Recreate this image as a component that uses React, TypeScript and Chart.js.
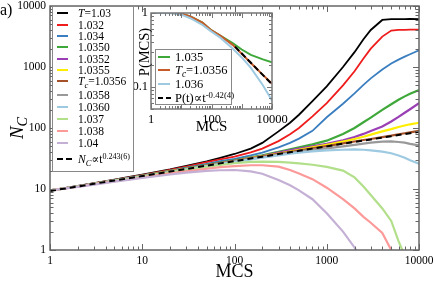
import React, { useEffect, useRef } from 'react';
import { Chart, registerables } from 'chart.js';
Chart.register(...registerables);

const FONT = "'Liberation Serif', 'DejaVu Serif', serif";

// ---------- main panel data ----------
const mcs = [1, 2, 3, 5, 7, 10, 20, 30, 50, 70, 100, 150, 200, 300, 400, 500, 700, 1000, 1500, 2000, 2500, 3000, 4000, 5000, 6000, 7000, 8000, 10000];
const n1030 = [9.5, 11.2, 12.5, 14.3, 15.6, 17.2, 21, 24, 28.5, 32.5, 37.5, 46, 57, 88, 122, 165, 275, 480, 1000, 1750, 2850, 4050, 5900, 6100, 6100, 6100, 6150, 6100];
const n1032 = [9.5, 11.1, 12.4, 14.1, 15.4, 16.9, 20.5, 23.2, 27.5, 30.5, 34, 40, 46, 61, 79, 100, 155, 255, 500, 850, 1380, 2000, 3150, 3950, 4050, 4050, 4100, 4100];
const n1034 = [9.5, 11.1, 12.3, 14, 15.2, 16.7, 20, 22.4, 25.8, 28.5, 31.2, 35.5, 39.5, 48, 57, 67, 90, 150, 250, 370, 510, 650, 910, 1140, 1320, 1480, 1620, 1880];
const n10350 = [9.5, 11, 12.2, 13.9, 15, 16.5, 19.6, 21.8, 24.8, 27, 29.5, 33, 35.5, 40.5, 44.5, 48, 54, 62, 80, 100, 124, 148, 198, 245, 290, 330, 365, 420];
const n10352 = [9.5, 11, 12.2, 13.8, 14.9, 16.4, 19.4, 21.5, 24.5, 26.6, 29, 32.3, 34.8, 39.5, 43, 46, 50, 55, 63, 71, 80, 89, 106, 128, 152, 178, 203, 255];
const n10355 = [9.5, 11, 12.2, 13.8, 14.9, 16.4, 19.4, 21.4, 24.3, 26.4, 28.8, 32, 34.2, 38.2, 41.2, 43.8, 48, 53, 60, 66, 72, 78, 88, 96, 104, 110, 115, 122];
const n10356 = [9.5, 11, 12.2, 13.8, 14.9, 16.4, 19.3, 21.3, 24.2, 26.3, 28.6, 31.8, 34, 37.8, 40.3, 42.5, 46.5, 50.5, 56, 60, 63.5, 66, 71, 75, 79, 82, 85, 90];
const n10358 = [9.5, 11, 12.2, 13.8, 14.9, 16.3, 19.2, 21.2, 24, 26, 28.3, 31.2, 33.2, 36.8, 39, 41, 44, 46.5, 50, 53, 55.5, 57.5, 60, 60.5, 59, 57.5, 55, 52];
const n10360 = [9.5, 11, 12.1, 13.7, 14.8, 16.2, 19, 21, 23.7, 25.6, 27.8, 30.6, 32.5, 35.6, 37.8, 39.5, 41.5, 43, 44, 44.5, 44, 43, 41, 38.5, 35.5, 32.5, 29.5, 26];
const n1037 = [9.5, 11, 12.1, 13.6, 14.6, 16, 18.8, 20.5, 23, 24.8, 26.5, 27.8, 28.2, 27.8, 27, 26.3, 25, 23, 20, 15.5, 11, 8, 4.8, 3, 1.4, 0.8, 0.5, 0.3];
const n1038 = [9.5, 10.9, 12, 13.4, 14.3, 15.5, 18, 19.5, 21.5, 22.8, 23.8, 24.5, 24.5, 23.2, 20.5, 18, 14.5, 10.5, 6.8, 4.8, 3.5, 2.8, 1.9, 1, 0.5, 0.3, 0.2, 0.1];
const n1040 = [9.5, 10.8, 11.8, 13.2, 14.1, 15.2, 17.3, 18.5, 19.8, 20.3, 20.5, 19.5, 17.8, 14, 11.5, 9.5, 6.8, 4, 2, 1.1, 0.6, 0.4, 0.3, 0.2, 0.1, 0.1, 0.1, 0.1];
const nFit = [9.3, 11, 12.2, 13.8, 14.9, 16.3, 19.3, 21.3, 24.2, 26.3, 28.6, 31.7, 33.8, 37.4, 40, 42.2, 45.9, 50, 55.3, 59, 62.3, 65, 69.6, 73.4, 76.7, 79.5, 82, 86.5];

const seriesLabels = ['T=1.03', '1.032', '1.034', '1.0350', '1.0352', '1.0355', 'Tc=1.0356', '1.0358', '1.0360', '1.037', '1.038', '1.04'];
const seriesValues = [n1030, n1032, n1034, n10350, n10352, n10355, n10356, n10358, n10360, n1037, n1038, n1040];
const seriesColors = ['#000000', '#ee1c1c', '#3a7ec0', '#3fa83a', '#9b3fb5', '#ffee00', '#a5522b', '#999999', '#9ecae1', '#b2df8a', '#fb9a99', '#c5b0d5'];
const fitLabel = 'N_C∝t^0.243(6)';

const mainTicks = [1, 10, 100, 1000, 10000];

// ---------- inset data ----------
const pMcs = [1, 2, 5, 10, 20, 50, 100, 200, 500, 1000, 2000, 5000, 10000];
const p1035 = [1, 1, 1, 0.98, 0.9, 0.74, 0.58, 0.49, 0.39, 0.32, 0.27, 0.235, 0.215];
const p10356 = [1, 1, 1, 0.98, 0.9, 0.74, 0.58, 0.49, 0.37, 0.28, 0.21, 0.145, 0.11];
const p1036 = [1, 1, 0.99, 0.95, 0.85, 0.69, 0.56, 0.46, 0.33, 0.25, 0.18, 0.105, 0.065];
const pFitMcs = [600, 10000];
const pFit = [0.35, 0.108];
const insetLabels = ['1.035', 'Tc=1.0356', '1.036', 'P(t)∝t^-0.42(4)'];
const insetColors = ['#3fa83a', '#c65a28', '#9ecae1', '#000000'];
const insetXTicks = [1, 100, 10000];
const insetYTicks = [0.1, 1];

const pts = (xs: number[], ys: number[]) => xs.map((x, i) => ({ x, y: ys[i] }));

const frameTicks = {
  id: 'frameTicks',
  afterDraw(chart: any, _args: any, opts: any) {
    const { ctx, chartArea: a, scales } = chart;
    const list = (s: any) => {
      const out: { v: number; major: boolean }[] = [];
      const lo = Math.floor(Math.log10(s.min) + 1e-9);
      const hi = Math.ceil(Math.log10(s.max) - 1e-9);
      for (let d = lo; d <= hi; d++) {
        for (let m = 1; m < 10; m++) {
          const v = m * Math.pow(10, d);
          if (v >= s.min * 0.9999 && v <= s.max * 1.0001) out.push({ v, major: m === 1 });
        }
      }
      return out;
    };
    ctx.save();
    ctx.strokeStyle = opts.color;
    ctx.lineWidth = 1;
    ctx.beginPath();
    for (const t of list(scales.x)) {
      const p = Math.round(scales.x.getPixelForValue(t.v)) + 0.5;
      const len = t.major ? opts.major : opts.minor;
      ctx.moveTo(p, a.bottom); ctx.lineTo(p, a.bottom - len);
      ctx.moveTo(p, a.top); ctx.lineTo(p, a.top + len);
    }
    for (const t of list(scales.y)) {
      const p = Math.round(scales.y.getPixelForValue(t.v)) + 0.5;
      const len = t.major ? opts.major : opts.minor;
      ctx.moveTo(a.left, p); ctx.lineTo(a.left + len, p);
      ctx.moveTo(a.right, p); ctx.lineTo(a.right - len, p);
    }
    ctx.stroke();
    ctx.lineWidth = opts.frameWidth;
    ctx.strokeRect(a.left, a.top, a.right - a.left, a.bottom - a.top);
    ctx.restore();
  },
};

function RichLabel({ text }: { text: string }) {
  if (text.startsWith('Tc=')) {
    return (<span><i>T</i><sub style={{ fontSize: '0.75em', verticalAlign: '-0.3em', lineHeight: 0 }}><i>c</i></sub>{text.slice(2)}</span>);
  }
  if (text.startsWith('T=')) {
    return (<span><i>T</i>{text.slice(1)}</span>);
  }
  if (text.startsWith('N_C')) {
    const exp = text.split('^')[1];
    return (<span><i>N</i><sub style={{ fontSize: '0.75em', verticalAlign: '-0.3em', lineHeight: 0 }}><i>C</i></sub>∝t<sup style={{ fontSize: '0.7em', verticalAlign: '0.5em', lineHeight: 0 }}>{exp}</sup></span>);
  }
  if (text.startsWith('P(t)')) {
    const [base, exp] = text.split('^');
    return (<span>{base}<sup style={{ fontSize: '0.7em', verticalAlign: '0.5em', lineHeight: 0 }}>{exp}</sup></span>);
  }
  return <span>{text}</span>;
}

export default function App() {
  const mainRef = useRef<HTMLCanvasElement>(null);
  const insetRef = useRef<HTMLCanvasElement>(null);

  useEffect(() => {
    const tickFont = { family: FONT, size: 11.5 };
    const datasets: any[] = seriesValues.map((vals, i) => ({
      label: seriesLabels[i],
      data: pts(mcs, vals),
      borderColor: seriesColors[i],
      borderWidth: i < 3 ? 1.8 : 2.2,
      pointRadius: 0,
      fill: false,
      tension: 0,
      order: 12 - i,
    }));
    datasets.push({
      label: fitLabel,
      data: pts(mcs, nFit),
      borderColor: '#000',
      borderWidth: 2,
      borderDash: [6, 4],
      pointRadius: 0,
      fill: false,
      order: -1,
    });
    const main = new Chart(mainRef.current!, {
      type: 'line',
      data: { datasets },
      plugins: [frameTicks],
      options: {
        animation: false,
        responsive: false,
        layout: { padding: { top: 6, right: 17, left: 0, bottom: 0 } },
        plugins: {
          legend: { display: false },
          tooltip: { enabled: false },
          frameTicks: { color: '#666', major: 6, minor: 3.5, frameWidth: 1.5 },
        } as any,
        scales: {
          x: {
            type: 'logarithmic', min: 1, max: 10000,
            grid: { display: false, drawTicks: false },
            border: { display: false },
            ticks: { font: tickFont, color: '#000', padding: 4, maxRotation: 0, autoSkip: false, callback: (v: any) => String(v) },
            afterBuildTicks: (s: any) => { s.ticks = mainTicks.map((v) => ({ value: v })); },
            afterFit: (s: any) => { s.height = 31; s.paddingLeft = 0; s.paddingRight = 0; },
            title: { display: true, text: 'MCS', color: '#000', font: { family: FONT, size: 18, lineHeight: 1 }, padding: 0 },
          },
          y: {
            type: 'logarithmic', min: 1, max: 10000,
            grid: { display: false, drawTicks: false },
            border: { display: false },
            ticks: { font: tickFont, color: '#000', padding: 4, autoSkip: false, callback: (v: any) => String(v) },
            afterBuildTicks: (s: any) => { s.ticks = mainTicks.map((v) => ({ value: v })); },
            afterFit: (s: any) => { s.width = 50; s.paddingTop = 0; s.paddingBottom = 0; },
          },
        },
      } as any,
    });

    const insetSets: any[] = [
      { label: insetLabels[0], data: pts(pMcs, p1035), borderColor: insetColors[0], borderWidth: 2, pointRadius: 0, fill: false, order: 3 },
      { label: insetLabels[1], data: pts(pMcs, p10356), borderColor: insetColors[1], borderWidth: 2, pointRadius: 0, fill: false, order: 2 },
      { label: insetLabels[2], data: pts(pMcs, p1036), borderColor: insetColors[2], borderWidth: 2, pointRadius: 0, fill: false, order: 1 },
      { label: insetLabels[3], data: pts(pFitMcs, pFit), borderColor: insetColors[3], borderWidth: 2, borderDash: [6, 3], pointRadius: 0, fill: false, order: 0 },
    ];
    const insetFont = { family: FONT, size: 12.5 };
    const inset = new Chart(insetRef.current!, {
      type: 'line',
      data: { datasets: insetSets },
      plugins: [frameTicks],
      options: {
        animation: false,
        responsive: false,
        layout: { padding: { top: 13, right: 18, left: 0, bottom: 0 } },
        plugins: {
          legend: { display: false },
          tooltip: { enabled: false },
          frameTicks: { color: '#777', major: 5, minor: 3, frameWidth: 1.5 },
        } as any,
        scales: {
          x: {
            type: 'logarithmic', min: 1, max: 10000,
            grid: { display: false, drawTicks: false },
            border: { display: false },
            ticks: { font: insetFont, color: '#000', padding: 3, maxRotation: 0, autoSkip: false, callback: (v: any) => String(v) },
            afterBuildTicks: (s: any) => { s.ticks = insetXTicks.map((v) => ({ value: v })); },
            afterFit: (s: any) => { s.height = 31; s.paddingLeft = 0; s.paddingRight = 0; },
            title: { display: true, text: 'MCS', color: '#000', font: { family: FONT, size: 15, lineHeight: 1 }, padding: { top: 0, bottom: 5 } },
          },
          y: {
            type: 'logarithmic', min: 0.05, max: 1,
            grid: { display: false, drawTicks: false },
            border: { display: false },
            ticks: { font: insetFont, color: '#000', padding: 3, autoSkip: false, callback: (v: any) => String(v) },
            afterBuildTicks: (s: any) => { s.ticks = insetYTicks.map((v) => ({ value: v })); },
            afterFit: (s: any) => { s.width = 21; s.paddingTop = 0; s.paddingBottom = 0; },
          },
        },
      } as any,
    });
    return () => { main.destroy(); inset.destroy(); };
  }, []);

  const mainLegendY = [13.3, 24.6, 35.9, 47.2, 58.5, 69.8, 81.1, 95, 107, 119, 131, 143];
  const insetLegendY = [57, 70, 84, 98];

  return (
    <div style={{ position: 'fixed', left: 0, top: 0, width: 436, height: 281, background: '#fff', fontFamily: FONT, color: '#000', overflow: 'hidden' }}>
      <canvas ref={mainRef} width={436} height={281} style={{ position: 'absolute', left: 0, top: 0 }} />
      <canvas ref={insetRef} width={160} height={140} style={{ position: 'absolute', left: 130, top: 0 }} />
      <div style={{ position: 'absolute', left: 0, top: 1, fontSize: 16, lineHeight: '18px' }}>a)</div>
      <div style={{ position: 'absolute', left: 17, top: 128, transform: 'translate(-50%, -50%) rotate(-90deg)', fontSize: 19, whiteSpace: 'nowrap', lineHeight: '20px' }}>
        <i>N</i><sub style={{ fontSize: '0.75em', verticalAlign: '-0.3em', lineHeight: 0 }}><i>C</i></sub>
      </div>
      <div style={{ position: 'absolute', left: 143.5, top: 52, transform: 'translate(-50%, -50%) rotate(-90deg)', fontSize: 14.5, whiteSpace: 'nowrap', lineHeight: '15px' }}>P(MCS)</div>

      <div style={{ position: 'absolute', left: 52, top: 6, width: 80, height: 164, border: '1px solid #888', background: '#fff' }} />
      {seriesLabels.map((lab, i) => (
        <React.Fragment key={lab}>
          <div style={{ position: 'absolute', left: 57, top: mainLegendY[i] - 1, width: 11, height: 0, borderTop: `2px solid ${seriesColors[i]}` }} />
          <div style={{ position: 'absolute', left: 78, top: mainLegendY[i] - 7, height: 14, lineHeight: '14px', fontSize: 11.5, whiteSpace: 'nowrap' }}><RichLabel text={lab} /></div>
        </React.Fragment>
      ))}
      <div style={{ position: 'absolute', left: 57, top: 158, width: 6, height: 0, borderTop: '2px solid #000' }} />
      <div style={{ position: 'absolute', left: 66, top: 158, width: 6, height: 0, borderTop: '2px solid #000' }} />
      <div style={{ position: 'absolute', left: 78, top: 152, height: 14, lineHeight: '14px', fontSize: 11.5, whiteSpace: 'nowrap' }}><RichLabel text={fitLabel} /></div>

      <div style={{ position: 'absolute', left: 155, top: 49, width: 75, height: 54, border: '1px solid #888', background: '#fff' }} />
      {insetLabels.map((lab, i) => (
        <React.Fragment key={lab}>
          {i < 3 ? (
            <div style={{ position: 'absolute', left: 158, top: insetLegendY[i] - 1, width: 12, height: 0, borderTop: `2px solid ${insetColors[i]}` }} />
          ) : (
            <>
              <div style={{ position: 'absolute', left: 158, top: insetLegendY[i] - 1, width: 5, height: 0, borderTop: '2px solid #000' }} />
              <div style={{ position: 'absolute', left: 166, top: insetLegendY[i] - 1, width: 5, height: 0, borderTop: '2px solid #000' }} />
            </>
          )}
          <div style={{ position: 'absolute', left: 175, top: insetLegendY[i] - 7.5, height: 15, lineHeight: '15px', fontSize: 12.5, whiteSpace: 'nowrap' }}><RichLabel text={lab} /></div>
        </React.Fragment>
      ))}
    </div>
  );
}
